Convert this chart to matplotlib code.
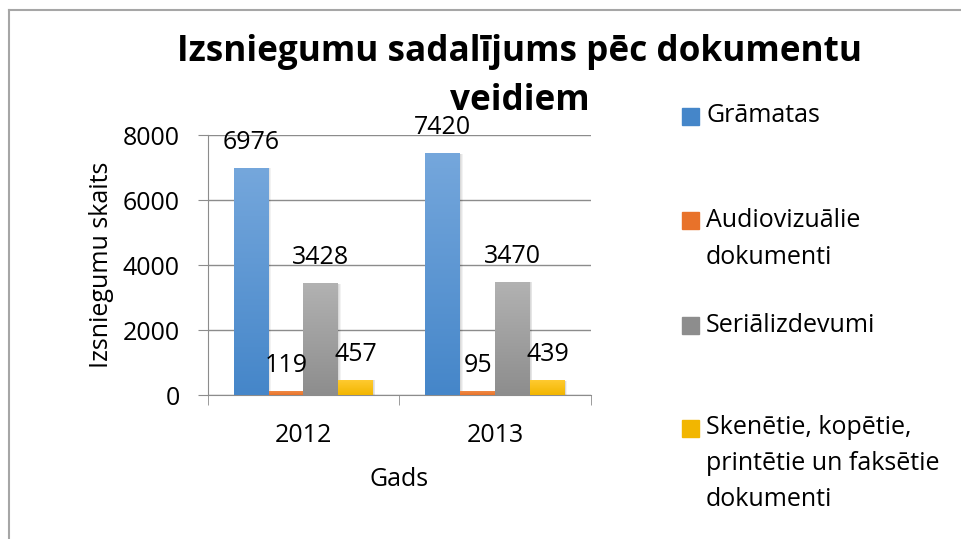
import numpy as np
import matplotlib
matplotlib.use("Agg")
import matplotlib.pyplot as plt
from matplotlib.colors import LinearSegmentedColormap
from matplotlib.patches import Rectangle
from matplotlib.lines import Line2D

plt.rcParams['font.family'] = ['Open Sans', 'DejaVu Sans']

# dati
years = ["2012", "2013"]
series = ["Grāmatas", "Audiovizuālie\ndokumenti", "Seriālizdevumi",
          "Skenētie, kopētie,\nprintētie un faksētie\ndokumenti"]
gramatas = [6976, 7420]
audio = [119, 95]
serial = [3428, 3470]
skenetie = [457, 439]
values = [gramatas, audio, serial, skenetie]

# krāsas (augša, apakša)
colors = [("#75a7dc", "#4586c9"), ("#f08a45", "#e8722a"),
          ("#b2b2b2", "#8d8d8d"), ("#ffca30", "#f2b600")]

fig = plt.figure(figsize=(9.61, 5.39), dpi=100)
ax = fig.add_axes([0.216, 0.267, 0.399, 0.4825])

x = np.arange(len(years))
w = 1 / 5.5
grad = np.linspace(0, 1, 256).reshape(-1, 1)
for i, vals in enumerate(values):
    cmap = LinearSegmentedColormap.from_list("c%d" % i, [colors[i][1], colors[i][0]])
    pos = x + (i - 1.5) * w
    bars = ax.bar(pos, vals, w, color=colors[i][1], zorder=3)
    for b in bars:
        x0 = b.get_x()
        h = b.get_height()
        # ēna
        for k in range(1, 4):
            sh = Rectangle((x0 + 0.004 * k, -k * 12), w, h + k * 12, color="black",
                           alpha=0.05, lw=0, zorder=2)
            ax.add_patch(sh)
        ax.imshow(grad, extent=(x0, x0 + w, 0, h), origin="lower", aspect="auto",
                  cmap=cmap, zorder=3.5)
        ax.annotate(str(h), (x0 + w / 2, h), xytext=(0, 26), textcoords="offset pixels",
                    ha="center", va="center", fontsize=18, zorder=5)

ax.set_xlim(-0.5, 1.5)
ax.set_ylim(0, 8000)
ax.set_yticks([0, 2000, 4000, 6000, 8000])
ax.set_xticks(x)
ax.set_xticklabels(years)
ax.set_xticks([-0.5, 0.5, 1.5], minor=True)
ax.tick_params(axis="x", which="major", length=0, pad=20, labelsize=18)
ax.tick_params(axis="x", which="minor", length=7, color="#8c8c8c")
ax.tick_params(axis="y", length=7, color="#8c8c8c", pad=13, labelsize=18)
ax.yaxis.grid(True, color="#8c8c8c", lw=1, zorder=0)
ax.set_axisbelow(True)
for s in ["top", "right"]:
    ax.spines[s].set_visible(False)
for s in ["left", "bottom"]:
    ax.spines[s].set_color("#8c8c8c")
ax.set_xlabel("Gads", fontsize=18, labelpad=14)
ax.set_ylabel("Izsniegumu skaits", fontsize=18, labelpad=6)

fig.text(0.541, 0.903, "Izsniegumu sadalījums pēc dokumentu", ha="center", va="center",
         fontsize=25.3, fontweight="bold")
fig.text(0.541, 0.813, "veidiem", ha="center", va="center", fontsize=25.3, fontweight="bold")

# leģenda
leg_y = [116, 221, 325, 428]
for i, lab in enumerate(series):
    yc = 1 - leg_y[i] / 539
    fig.patches.append(Rectangle((682 / 961, yc - 8.5 / 539), 17 / 961, 17 / 539,
                                 transform=fig.transFigure, color=colors[i][1]))
    for j, line in enumerate(lab.split("\n")):
        fig.text(706 / 961, yc - j * 36 / 539, line, ha="left", va="center", fontsize=18)

# rāmis
fig.lines.append(Line2D([9 / 961, 1], [1 - 10 / 539] * 2, transform=fig.transFigure,
                        color="#a6a6a6", lw=1.5))
fig.lines.append(Line2D([9 / 961] * 2, [0, 1 - 10 / 539], transform=fig.transFigure,
                        color="#a6a6a6", lw=1.5))

fig.savefig("out.png", dpi=100)
